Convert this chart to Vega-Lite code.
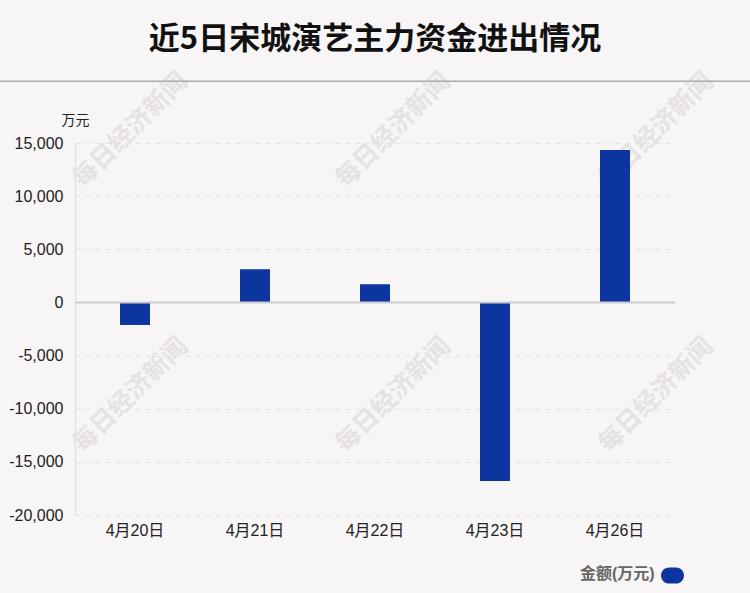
{
  "$schema": "https://vega.github.io/schema/vega-lite/v6.json",
  "width": 600,
  "height": 372,
  "autosize": {"type": "none"},
  "padding": {"left": 75, "top": 143, "right": 75, "bottom": 78},
  "background": "#f8f5f6",
  "title": {
    "text": "近5日宋城演艺主力资金进出情况",
    "font": "Noto Sans CJK SC",
    "fontSize": 31,
    "fontWeight": "bold",
    "color": "#111111",
    "anchor": "middle",
    "frame": "group",
    "offset": 13
  },
  "config": {
    "view": {"stroke": null},
    "font": "Liberation Sans, Noto Sans CJK SC"
  },
  "datasets": {
    "flows": [
      {"date": "4月20日", "amount": -2120, "series": "金额(万元)"},
      {"date": "4月21日", "amount": 3120, "series": "金额(万元)"},
      {"date": "4月22日", "amount": 1710, "series": "金额(万元)"},
      {"date": "4月23日", "amount": -16800, "series": "金额(万元)"},
      {"date": "4月26日", "amount": 14330, "series": "金额(万元)"}
    ],
    "marks": [
      {"pos": -0.04, "value": 16212, "label": "每日经济新闻"},
      {"pos": 2.15, "value": 16212, "label": "每日经济新闻"},
      {"pos": 4.34, "value": 16212, "label": "每日经济新闻"},
      {"pos": -0.04, "value": -8694, "label": "每日经济新闻"},
      {"pos": 2.15, "value": -8694, "label": "每日经济新闻"},
      {"pos": 4.34, "value": -8694, "label": "每日经济新闻"}
    ],
    "header": [
      {"start": -1.125, "end": 5.125, "value": 20818}
    ]
  },
  "layer": [
    {
      "data": {"name": "marks"},
      "mark": {"type": "text", "angle": 315, "font": "Noto Sans CJK SC", "fontWeight": "bold", "fontSize": 25, "color": "#e6e2e3", "align": "center", "baseline": "middle"},
      "encoding": {
        "x": {"field": "pos", "type": "quantitative", "scale": {"domain": [-0.5, 4.5], "nice": false, "zero": false}, "axis": null},
        "y": {"field": "value", "type": "quantitative", "scale": {"domain": [-20000, 15000], "nice": false}},
        "text": {"field": "label"}
      }
    },
    {
      "data": {"name": "flows"},
      "mark": {"type": "bar", "size": 30},
      "encoding": {
        "x": {
          "field": "date", "type": "nominal", "sort": null,
          "scale": {"paddingInner": 0, "paddingOuter": 0},
          "axis": {"title": null, "domain": false, "ticks": false, "labelAngle": 0, "labelFontSize": 16, "labelColor": "#222222", "labelPadding": 7, "grid": false}
        },
        "y": {
          "field": "amount", "type": "quantitative",
          "scale": {"domain": [-20000, 15000], "nice": false},
          "axis": {
            "values": [-20000, -15000, -10000, -5000, 0, 5000, 10000, 15000],
            "labelExpr": "replace(format(datum.value, ',.0f'), '\u2212', '-')",
            "title": "万元",
            "titleAngle": 0,
            "titleX": 0,
            "titleY": -23,
            "titleAlign": "center",
            "titleBaseline": "middle",
            "titleFontSize": 14,
            "titleFontWeight": "normal",
            "titleColor": "#222222",
            "labelFontSize": 16,
            "labelColor": "#222222",
            "labelPadding": 12,
            "ticks": false,
            "domainColor": "#dddddd",
            "grid": true,
            "gridColor": "#e2e0e0",
            "gridDash": [5, 5]
          }
        },
        "color": {
          "field": "series", "type": "nominal",
          "scale": {"range": ["#0c359f"]},
          "legend": {
            "orient": "none",
            "legendX": 505,
            "legendY": 421,
            "title": "金额(万元)",
            "titleOrient": "left",
            "titleFontSize": 16,
            "titleFontWeight": "bold",
            "titleColor": "#666666",
            "titlePadding": 6,
            "labelExpr": "''",
            "symbolType": "M-0.3,-0.7H0.3A0.7,0.7 0 0 1 0.3,0.7H-0.3A0.7,0.7 0 0 1 -0.3,-0.7Z",
            "symbolSize": 529,
            "symbolStrokeWidth": 0,
            "symbolOpacity": 1
          }
        }
      }
    },
    {
      "data": {"values": [{}]},
      "mark": {"type": "rule", "color": "#cccccc", "strokeWidth": 2},
      "encoding": {
        "y": {"datum": 0, "type": "quantitative", "scale": {"domain": [-20000, 15000], "nice": false}}
      }
    },
    {
      "data": {"name": "header"},
      "mark": {"type": "rule", "color": "#aaaaaa", "strokeWidth": 1.5, "clip": false},
      "encoding": {
        "x": {"field": "start", "type": "quantitative", "scale": {"domain": [-0.5, 4.5], "nice": false, "zero": false}, "axis": null},
        "x2": {"field": "end"},
        "y": {"field": "value", "type": "quantitative", "scale": {"domain": [-20000, 15000], "nice": false}}
      }
    }
  ],
  "resolve": {"scale": {"x": "independent", "color": "independent"}}
}
